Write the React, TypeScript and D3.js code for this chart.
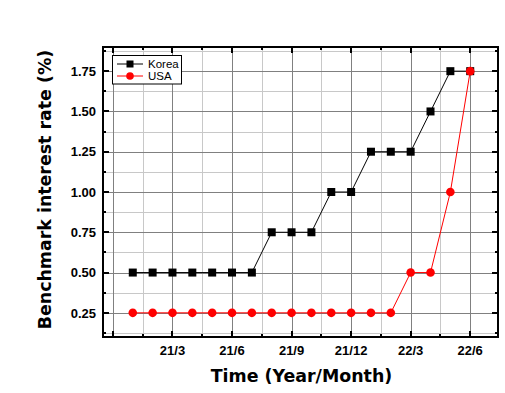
import { useEffect, useRef } from 'react';
import * as d3 from 'd3';

const WIDTH = 505;
const HEIGHT = 393;

// month index: 0 = 20/12, 1 = 21/1 ... 18 = 22/6
const months = [1, 2, 3, 4, 5, 6, 7, 8, 9, 10, 11, 12, 13, 14, 15, 16, 17, 18];
const korea = [0.5, 0.5, 0.5, 0.5, 0.5, 0.5, 0.5, 0.75, 0.75, 0.75, 1.0, 1.0, 1.25, 1.25, 1.25, 1.5, 1.75, 1.75];
const usa = [0.25, 0.25, 0.25, 0.25, 0.25, 0.25, 0.25, 0.25, 0.25, 0.25, 0.25, 0.25, 0.25, 0.25, 0.5, 0.5, 1.0, 1.75];

const xTickValues = [0, 3, 6, 9, 12, 15, 18];
const xTickLabels = ['', '21/3', '21/6', '21/9', '21/12', '22/3', '22/6'];
const xMinorValues = [1.5, 4.5, 7.5, 10.5, 13.5, 16.5];
const yTickValues = [0.25, 0.5, 0.75, 1.0, 1.25, 1.5, 1.75];
const yMinorValues = [0.125, 0.375, 0.625, 0.875, 1.125, 1.375, 1.625, 1.875];

const FRAME = { left: 103, right: 498, top: 47, bottom: 337 };

function draw(svgEl: SVGSVGElement) {
  const x = d3.scaleLinear().domain([-0.5, 19.4]).range([FRAME.left, FRAME.right]);
  const y = d3.scaleLinear().domain([0.1, 1.9]).range([FRAME.bottom, FRAME.top]);

  const svg = d3.select(svgEl);
  svg.selectAll('*').remove();

  svg.append('rect').attr('width', WIDTH).attr('height', HEIGHT).attr('fill', '#fff');

  // grid
  const grid = svg.append('g').attr('shape-rendering', 'crispEdges');
  xMinorValues.forEach((v) => {
    grid.append('line').attr('x1', Math.round(x(v)) + 0.5).attr('x2', Math.round(x(v)) + 0.5)
      .attr('y1', FRAME.top).attr('y2', FRAME.bottom).attr('stroke', '#c8c8c8');
  });
  yMinorValues.forEach((v) => {
    grid.append('line').attr('y1', Math.round(y(v)) + 0.5).attr('y2', Math.round(y(v)) + 0.5)
      .attr('x1', FRAME.left).attr('x2', FRAME.right).attr('stroke', '#c8c8c8');
  });
  xTickValues.forEach((v) => {
    grid.append('line').attr('x1', Math.round(x(v)) + 0.5).attr('x2', Math.round(x(v)) + 0.5)
      .attr('y1', FRAME.top).attr('y2', FRAME.bottom).attr('stroke', '#808080');
  });
  yTickValues.forEach((v) => {
    grid.append('line').attr('y1', Math.round(y(v)) + 0.5).attr('y2', Math.round(y(v)) + 0.5)
      .attr('x1', FRAME.left).attr('x2', FRAME.right).attr('stroke', '#808080');
  });

  // series
  const line = d3.line<[number, number]>().x((d) => x(d[0])).y((d) => y(d[1]));
  const koreaPts = months.map((m, i) => [m, korea[i]] as [number, number]);
  const usaPts = months.map((m, i) => [m, usa[i]] as [number, number]);

  svg.append('path').attr('d', line(koreaPts)).attr('fill', 'none').attr('stroke', '#000').attr('stroke-width', 1);
  svg.append('g').selectAll('rect').data(koreaPts).join('rect')
    .attr('x', (d) => x(d[0]) - 4).attr('y', (d) => y(d[1]) - 4)
    .attr('width', 8).attr('height', 8).attr('fill', '#000');

  svg.append('path').attr('d', line(usaPts)).attr('fill', 'none').attr('stroke', '#ff0000').attr('stroke-width', 1);
  svg.append('g').selectAll('circle').data(usaPts).join('circle')
    .attr('cx', (d) => x(d[0])).attr('cy', (d) => y(d[1])).attr('r', 4.3).attr('fill', '#ff0000');

  // frame + inward ticks on all sides
  const axes = svg.append('g').attr('stroke', '#000').attr('shape-rendering', 'crispEdges');
  axes.append('rect').attr('x', FRAME.left).attr('y', FRAME.top)
    .attr('width', FRAME.right - FRAME.left).attr('height', FRAME.bottom - FRAME.top)
    .attr('fill', 'none').attr('stroke-width', 2);
  const tick = (vals: number[], len: number) => {
    vals.forEach((v) => {
      const px = Math.round(x(v));
      axes.append('line').attr('x1', px).attr('x2', px).attr('y1', FRAME.bottom).attr('y2', FRAME.bottom - len).attr('stroke-width', 2);
      axes.append('line').attr('x1', px).attr('x2', px).attr('y1', FRAME.top).attr('y2', FRAME.top + len).attr('stroke-width', 2);
    });
  };
  const ytick = (vals: number[], len: number) => {
    vals.forEach((v) => {
      const py = Math.round(y(v));
      axes.append('line').attr('y1', py).attr('y2', py).attr('x1', FRAME.left).attr('x2', FRAME.left + len).attr('stroke-width', 2);
      axes.append('line').attr('y1', py).attr('y2', py).attr('x1', FRAME.right).attr('x2', FRAME.right - len).attr('stroke-width', 2);
    });
  };
  tick(xTickValues, 6);
  tick(xMinorValues, 3);
  ytick(yTickValues, 6);
  ytick(yMinorValues, 3);

  // tick labels
  const labelFont = '"Liberation Sans", Arial, sans-serif';
  svg.append('g').selectAll('text').data(xTickValues).join('text')
    .attr('x', (d) => x(d)).attr('y', 355)
    .attr('text-anchor', 'middle').attr('font-family', labelFont).attr('font-weight', 'bold').attr('font-size', 13)
    .text((_, i) => xTickLabels[i]);
  svg.append('g').selectAll('text').data(yTickValues).join('text')
    .attr('x', 96).attr('y', (d) => y(d) + 4.7)
    .attr('text-anchor', 'end').attr('font-family', labelFont).attr('font-weight', 'bold').attr('font-size', 13)
    .text((d) => d3.format('.2f')(d));

  // axis titles
  const titleFont = '"DejaVu Sans", Verdana, sans-serif';
  svg.append('text').attr('x', 301.5).attr('y', 382)
    .attr('text-anchor', 'middle').attr('font-family', titleFont).attr('font-weight', 'bold').attr('font-size', 17.4)
    .text('Time (Year/Month)');
  svg.append('text').attr('transform', 'translate(51,189.5) rotate(-90)')
    .attr('text-anchor', 'middle').attr('font-family', titleFont).attr('font-weight', 'bold').attr('font-size', 17.4)
    .text('Benchmark interest rate (%)');

  // legend
  const legend = svg.append('g');
  legend.append('rect').attr('x', 112.5).attr('y', 55.5).attr('width', 69).attr('height', 28.5)
    .attr('fill', '#fff').attr('stroke', '#000').attr('stroke-width', 1);
  const items = [
    { name: 'Korea', color: '#000', shape: 'square' },
    { name: 'USA', color: '#ff0000', shape: 'circle' },
  ];
  items.forEach((it, i) => {
    const cy = 64 + i * 12;
    legend.append('line').attr('x1', 117).attr('x2', 143).attr('y1', cy).attr('y2', cy)
      .attr('stroke', it.color).attr('stroke-width', 1);
    if (it.shape === 'square') {
      legend.append('rect').attr('x', 126.5).attr('y', cy - 3.5).attr('width', 7).attr('height', 7).attr('fill', it.color);
    } else {
      legend.append('circle').attr('cx', 130).attr('cy', cy).attr('r', 3.8).attr('fill', it.color);
    }
    legend.append('text').attr('x', 148).attr('y', cy + 4).attr('font-family', labelFont).attr('font-size', 11.5)
      .attr('fill', '#000').text(it.name);
  });
}

export default function App() {
  const svgRef = useRef<SVGSVGElement>(null);

  useEffect(() => {
    if (svgRef.current) draw(svgRef.current);
  }, []);

  return (
    <>
      <style>{'body { margin: 0; }'}</style>
      <svg ref={svgRef} width={WIDTH} height={HEIGHT} style={{ display: 'block' }} />
    </>
  );
}
